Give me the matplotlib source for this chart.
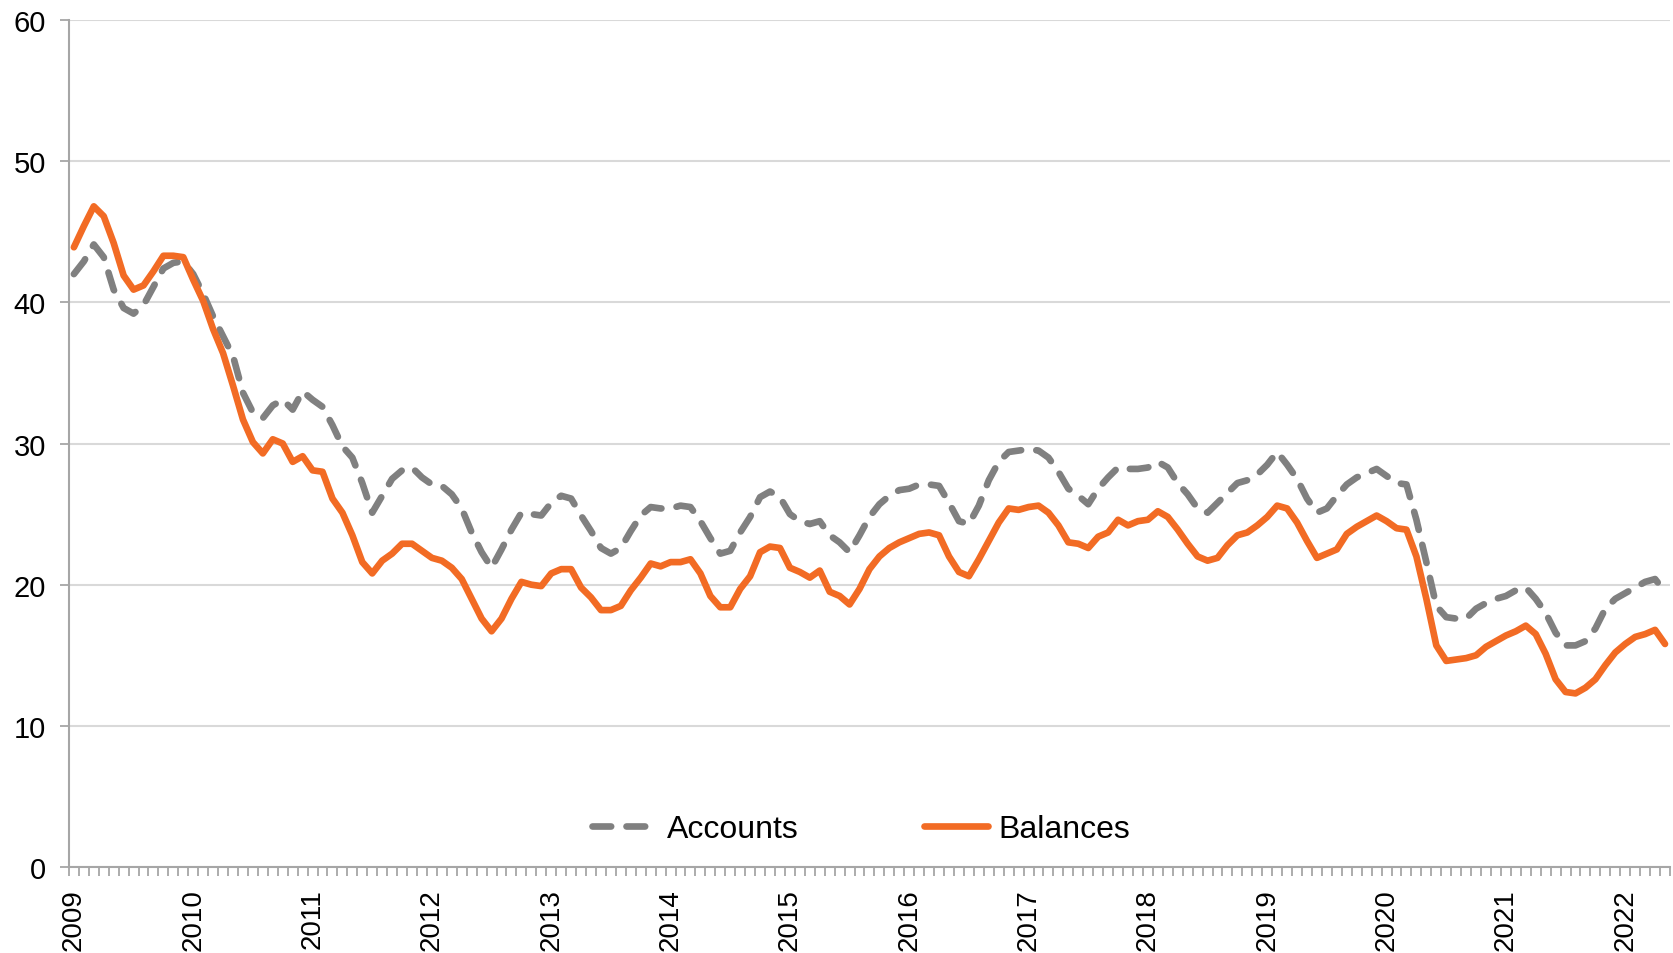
import matplotlib.pyplot as plt
from matplotlib.ticker import FixedLocator

plt.rcParams['font.family'] = ['Liberation Sans', 'DejaVu Sans']

# monthly, Jan 2009 .. May 2022
years = [str(y) for y in range(2009, 2023)]

accounts = [
    42.0, 42.9, 44.1, 43.2, 40.9, 39.6, 39.2, 39.8, 41.1, 42.4, 42.8, 42.9,
    42.0, 40.6, 39.0, 37.6, 36.2, 33.6, 32.2, 31.8, 32.7, 33.1, 32.4, 33.7,
    33.1, 32.6, 31.3, 29.8, 29.0, 27.2, 25.1, 26.3, 27.5, 28.1, 28.3, 27.6,
    27.1, 27.0, 26.4, 25.4, 23.7, 22.3, 21.2, 22.5, 23.9, 25.1, 25.0, 24.9,
    25.8, 26.3, 26.1, 24.9, 23.8, 22.6, 22.2, 22.6, 23.8, 24.9, 25.5, 25.4,
    25.4, 25.6, 25.5, 24.5, 23.3, 22.2, 22.4, 23.7, 24.8, 26.2, 26.6, 26.2,
    25.0, 24.5, 24.3, 24.5, 23.5, 23.0, 22.3, 23.5, 24.8, 25.7, 26.3, 26.7,
    26.8, 27.1, 27.1, 27.0, 25.8, 24.5, 24.3, 25.6, 27.4, 28.7, 29.4, 29.5,
    29.6, 29.5, 29.0, 28.0, 26.8, 26.3, 25.7, 26.8, 27.6, 28.3, 28.2, 28.2,
    28.3, 28.7, 28.3, 27.2, 26.4, 25.4, 25.1, 25.8, 26.5, 27.2, 27.4, 27.8,
    28.5, 29.4, 28.5, 27.5, 26.1, 25.1, 25.4, 26.3, 27.1, 27.6, 27.9, 28.2,
    27.7, 27.2, 27.1, 24.6, 21.6, 18.5, 17.7, 17.6, 17.6, 18.3, 18.7, 19.0,
    19.2, 19.6, 19.8, 19.0, 18.0, 16.6, 15.7, 15.7, 16.0, 16.9, 18.3, 19.0,
    19.4, 19.8, 20.2, 20.4, 19.5,
]

balances = [
    43.9, 45.4, 46.8, 46.1, 44.2, 41.9, 40.9, 41.2, 42.2, 43.3, 43.3, 43.2,
    41.6, 40.1, 38.1, 36.4, 34.1, 31.7, 30.1, 29.3, 30.3, 30.0, 28.7, 29.1,
    28.1, 28.0, 26.1, 25.1, 23.5, 21.6, 20.8, 21.7, 22.2, 22.9, 22.9, 22.4,
    21.9, 21.7, 21.2, 20.4, 19.0, 17.6, 16.7, 17.6, 19.0, 20.2, 20.0, 19.9,
    20.8, 21.1, 21.1, 19.8, 19.1, 18.2, 18.2, 18.5, 19.6, 20.5, 21.5, 21.3,
    21.6, 21.6, 21.8, 20.8, 19.2, 18.4, 18.4, 19.7, 20.6, 22.3, 22.7, 22.6,
    21.2, 20.9, 20.5, 21.0, 19.5, 19.2, 18.6, 19.7, 21.1, 22.0, 22.6, 23.0,
    23.3, 23.6, 23.7, 23.5, 22.0, 20.9, 20.6, 21.8, 23.1, 24.4, 25.4, 25.3,
    25.5, 25.6, 25.1, 24.2, 23.0, 22.9, 22.6, 23.4, 23.7, 24.6, 24.2, 24.5,
    24.6, 25.2, 24.8, 23.9, 22.9, 22.0, 21.7, 21.9, 22.8, 23.5, 23.7, 24.2,
    24.8, 25.6, 25.4, 24.4, 23.1, 21.9, 22.2, 22.5, 23.6, 24.1, 24.5, 24.9,
    24.5, 24.0, 23.9, 22.0, 19.0, 15.7, 14.6, 14.7, 14.8, 15.0, 15.6, 16.0,
    16.4, 16.7, 17.1, 16.5, 15.1, 13.3, 12.4, 12.3, 12.7, 13.3, 14.3, 15.2,
    15.8, 16.3, 16.5, 16.8, 15.8,
]

months = list(range(len(balances)))

fig = plt.figure(figsize=(16.73, 9.54), dpi=100)
ax = fig.add_axes([0.0412, 0.0901, 0.957, 0.8879])

ax.plot(months, accounts, color='#808080', lw=4.8, linestyle=(0, (2.8, 2.3)),
        dash_capstyle='round', solid_joinstyle='round', label='Accounts')
ax.plot(months, balances, color='#F26B24', lw=4.8, solid_capstyle='round',
        solid_joinstyle='round', label='Balances')

ax.set_xlim(-0.5, len(months) - 0.5)
ax.set_ylim(0, 60)
ax.set_yticks(range(0, 61, 10))
ax.grid(axis='y', color='#D9D9D9', lw=1.5)
ax.set_axisbelow(True)

ax.set_xticks(range(0, len(months), 12))
ax.set_xticklabels(years, rotation=90)
ax.xaxis.set_minor_locator(FixedLocator([m - 0.5 for m in range(len(months) + 1)]))
ax.tick_params(axis='x', which='major', length=0, pad=15, labelsize=20)
ax.tick_params(axis='x', which='minor', length=6.5, width=1.3, color='#A6A6A6')
ax.tick_params(axis='y', length=6.5, width=1.3, color='#A6A6A6', labelsize=21, pad=10)

for s in ['top', 'right']:
    ax.spines[s].set_visible(False)
for s in ['left', 'bottom']:
    ax.spines[s].set_color('#A6A6A6')
    ax.spines[s].set_linewidth(1.5)

ax.legend(loc='center', bbox_to_anchor=(0.495, 0.045), ncol=2, frameon=False,
          fontsize=23, handlelength=2.0, handletextpad=0.35, columnspacing=3.9)

fig.savefig('out.png', dpi=100)
